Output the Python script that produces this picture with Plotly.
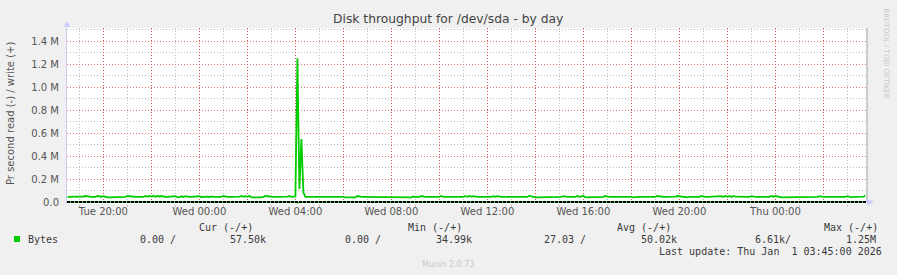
import pandas as pd
import plotly.graph_objects as go

# ---------------- data ----------------
start_time = "2025-12-30 18:30"          # first 5-minute sample
sample_freq = "5min"

# write throughput (k bytes / s), one row per hour of 5-minute samples
write_kbytes = [
    45, 45, 45, 45, 45, 45, 45, 45, 48, 52, 48, 43,
    45, 45, 45, 52, 50, 46, 51, 44, 40, 40, 40, 40,
    40, 40, 45, 45, 45, 45, 52, 49, 52, 45, 45, 45,
    45, 45, 45, 52, 45, 53, 47, 54, 46, 53, 48, 52,
    45, 45, 45, 45, 45, 45, 51, 42, 40, 50, 44, 50,
    45, 45, 45, 45, 45, 45, 50, 42, 47, 42, 49, 42,
    48, 45, 45, 45, 45, 45, 52, 45, 45, 45, 45, 45,
    45, 51, 46, 52, 45, 51, 45, 53, 40, 40, 40, 35,
    40, 40, 45, 52, 50, 47, 45, 45, 45, 45, 45, 45,
    45, 51, 47, 52, 45, 46, 48, 1250, 113, 548, 83, 45,
    45, 45, 45, 45, 45, 45, 45, 45, 45, 45, 45, 45,
    45, 45, 45, 51, 45, 45, 45, 40, 40, 40, 40, 40,
    40, 52, 45, 45, 45, 45, 45, 45, 45, 45, 45, 45,
    45, 45, 45, 45, 45, 45, 45, 45, 45, 45, 45, 41,
    40, 44, 40, 44, 40, 48, 42, 45, 45, 52, 45, 45,
    45, 45, 45, 45, 45, 51, 45, 53, 45, 45, 45, 40,
    40, 40, 40, 40, 40, 45, 45, 52, 45, 52, 47, 51,
    45, 45, 45, 45, 45, 45, 41, 45, 45, 50, 46, 51,
    45, 45, 45, 45, 45, 51, 45, 45, 45, 45, 45, 45,
    45, 45, 45, 53, 48, 40, 40, 40, 40, 40, 40, 40,
    40, 40, 45, 45, 45, 45, 45, 45, 51, 45, 45, 45,
    45, 50, 44, 52, 45, 49, 54, 40, 40, 40, 40, 40,
    40, 40, 40, 45, 45, 52, 45, 45, 45, 45, 45, 45,
    45, 45, 45, 51, 45, 45, 45, 40, 45, 45, 45, 45,
    45, 45, 45, 45, 45, 45, 45, 52, 48, 45, 45, 45,
    45, 45, 45, 51, 47, 52, 48, 45, 45, 45, 40, 45,
    45, 45, 45, 45, 45, 52, 45, 45, 45, 45, 45, 45,
    45, 45, 45, 51, 44, 53, 45, 52, 44, 53, 46, 45,
    45, 45, 45, 45, 45, 45, 51, 45, 45, 45, 45, 40,
    45, 45, 45, 45, 52, 46, 52, 45, 45, 40, 40, 40,
    40, 45, 45, 45, 45, 45, 45, 45, 45, 45, 45, 45,
    45, 45, 45, 45, 51, 45, 45, 45, 45, 45, 45, 45,
    40, 45, 45, 45, 45, 45, 51, 45, 40, 45, 45, 45,
    45, 45, 46, 57.5,
]
# read throughput (k bytes / s) -- essentially zero, one tiny burst
read_kbytes = [0.0] * 115 + [6.61] + [0.0] * 284

y_tick_values = [0, 200000, 400000, 600000, 800000, 1000000, 1200000, 1400000]
y_tick_labels = ["0.0", "0.2 M", "0.4 M", "0.6 M", "0.8 M", "1.0 M", "1.2 M", "1.4 M"]
y_minor_values = [100000, 300000, 500000, 700000, 900000, 1100000, 1300000, 1500000]

x_tick_times = ["2025-12-30 20:00", "2025-12-30 22:00", "2025-12-31 00:00", "2025-12-31 02:00",
                "2025-12-31 04:00", "2025-12-31 06:00", "2025-12-31 08:00", "2025-12-31 10:00",
                "2025-12-31 12:00", "2025-12-31 14:00", "2025-12-31 16:00", "2025-12-31 18:00",
                "2025-12-31 20:00", "2025-12-31 22:00", "2026-01-01 00:00", "2026-01-01 02:00"]
x_tick_labels = ["Tue 20:00", "", "Wed 00:00", "", "Wed 04:00", "", "Wed 08:00", "",
                 "Wed 12:00", "", "Wed 16:00", "", "Wed 20:00", "", "Thu 00:00", ""]
x_minor_times = ["2025-12-30 19:00", "2025-12-30 21:00", "2025-12-30 23:00", "2025-12-31 01:00",
                 "2025-12-31 03:00", "2025-12-31 05:00", "2025-12-31 07:00", "2025-12-31 09:00",
                 "2025-12-31 11:00", "2025-12-31 13:00", "2025-12-31 15:00", "2025-12-31 17:00",
                 "2025-12-31 19:00", "2025-12-31 21:00", "2025-12-31 23:00", "2026-01-01 01:00",
                 "2026-01-01 03:00"]
x_range = ["2025-12-30 18:29", "2026-01-01 03:49"]

legend_headers = ["Cur (-/+)", "Min (-/+)", "Avg (-/+)", "Max (-/+)"]
stats_read = ["0.00 /", "0.00 /", "27.03 /", "6.61k/"]
stats_write = ["57.50k", "34.99k", "50.02k", "1.25M"]
series_name = "Bytes"
last_update = "Last update: Thu Jan\u00a0 1 03:45:00 2026"

title_text = "Disk throughput for /dev/sda - by day"
y_title = "Pr second read (-) / write (+)"

# ---------------- figure ----------------
W, H = 897, 275
PL, PR, PT, PB = 67, 867, 28, 204   # plot area in pixels


def px(x):
    return (x - PL) / (PR - PL)


def py(y):
    return (PB - y) / (PB - PT)


times = pd.date_range(start=start_time, periods=len(write_kbytes), freq=sample_freq)
GREEN = "#00CC00"

fig = go.Figure()
fig.add_trace(go.Scatter(x=times, y=[-v * 1000 for v in read_kbytes], mode="lines",
                         line=dict(color=GREEN, width=1.5), hoverinfo="skip"))
fig.add_trace(go.Scatter(x=times, y=[v * 1000 for v in write_kbytes], mode="lines",
                         line=dict(color=GREEN, width=1.8), hoverinfo="skip"))

MAJOR_Y = "rgb(225,115,115)"
MAJOR_X = "rgb(220,85,85)"
MINOR = "rgb(190,190,190)"
DOTS = "1px,2px"
TICKFONT = dict(family="DejaVu Sans", size=10, color="#555555")
MONO = dict(family="DejaVu Sans Mono", size=10, color="#3a3a3a")

fig.update_layout(
    width=W, height=H,
    margin=dict(l=PL, r=W - PR, t=PT, b=H - PB, pad=0),
    paper_bgcolor="#F0F0F0", plot_bgcolor="#FFFFFF",
    showlegend=False,
    xaxis=dict(
        type="date", range=x_range,
        tickvals=x_tick_times, ticktext=x_tick_labels,
        showgrid=True, gridcolor=MAJOR_X, griddash=DOTS, gridwidth=1.4,
        ticks="", tickfont=TICKFONT, ticklabelstandoff=0,
        minor=dict(tickvals=x_minor_times, showgrid=True,
                   gridcolor=MINOR, griddash=DOTS, gridwidth=1,
                   ticks="outside", ticklen=2, tickcolor=MINOR),
        showline=False, zeroline=False, fixedrange=True,
    ),
    yaxis=dict(
        range=[-17400, 1513000],
        tickvals=y_tick_values, ticktext=y_tick_labels,
        showgrid=True, gridcolor=MAJOR_Y, griddash=DOTS, gridwidth=1.2,
        ticks="", tickfont=TICKFONT, ticklabelstandoff=5,
        minor=dict(tickvals=y_minor_values, showgrid=True,
                   gridcolor=MINOR, griddash=DOTS, gridwidth=1),
        showline=True, linecolor="#CCCCEE", linewidth=1,
        zeroline=False, fixedrange=True,
    ),
)

shapes = []
# zero line
shapes.append(dict(type="line", xref="paper", yref="y", x0=0, x1=1, y0=0, y1=0,
                   line=dict(color="#000000", width=2, dash="3px,1px")))
# right frame
shapes.append(dict(type="line", xref="paper", yref="paper", x0=1, x1=1, y0=py(202), y1=1,
                   line=dict(color="#A0A0A0", width=1)))
# axis arrows
shapes.append(dict(type="path", xref="paper", yref="paper",
                   path=f"M {px(63.5)} {py(27)} L {px(70.5)} {py(27)} L {px(67)} {py(21)} Z",
                   fillcolor="#CCCCFF", line=dict(width=0)))
shapes.append(dict(type="path", xref="paper", yref="paper",
                   path=f"M {px(867)} {py(198.5)} L {px(867)} {py(205.5)} L {px(874)} {py(202)} Z",
                   fillcolor="#CCCCFF", line=dict(width=0)))
# legend colour box
shapes.append(dict(type="rect", xref="paper", yref="paper",
                   x0=px(14), x1=px(20), y0=py(242), y1=py(236),
                   fillcolor=GREEN, line=dict(width=0)))
fig.update_layout(shapes=shapes)

ann = []


def add_text(text, x, y, font, xanchor="left", angle=0):
    ann.append(dict(text=text, xref="paper", yref="paper", x=px(x), y=py(y),
                    xanchor=xanchor, yanchor="middle", showarrow=False,
                    font=font, textangle=angle, borderpad=0))


add_text(title_text, 448, 19, dict(family="DejaVu Sans", size=12.3, color="#444444"), "center")
add_text(y_title, 10, 114, dict(family="DejaVu Sans", size=10, color="#555555"), "center", -90)
add_text("RRDTOOL / TOBI OETIKER", 885.5, 53, dict(family="DejaVu Sans", size=7, color="#C8C8C8"),
         "center", 90)
add_text("Munin 2.0.73", 448, 264, dict(family="DejaVu Sans", size=8, color="#C8C8C8"), "center")

header_left = [198, 406.7, 615.7, 822.7]
for h, x in zip(legend_headers, header_left):
    add_text(h, x, 227.5, MONO)

add_text(series_name, 26.7, 239.5, MONO)
read_left = [139, 344, 543.3, 754.3]
write_right = [266.7, 472.7, 678.3, 876.7]
for s, x in zip(stats_read, read_left):
    add_text(s, x, 239.5, MONO)
for s, x in zip(stats_write, write_right):
    add_text(s, x, 239.5, MONO, "right")
add_text(last_update, 882.7, 251.5, MONO, "right")

fig.update_layout(annotations=ann)

fig.write_html("out.html", config={"displayModeBar": False})
